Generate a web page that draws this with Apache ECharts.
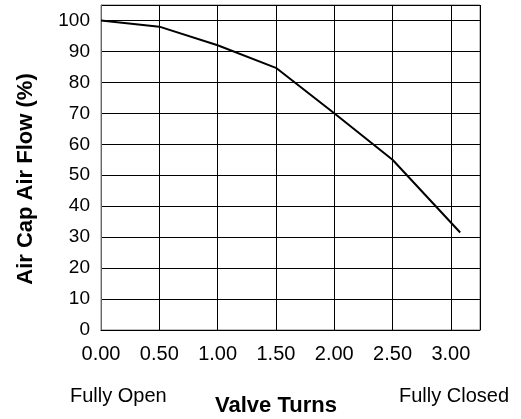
<!DOCTYPE html>
<html>
<head>
<meta charset="utf-8">
<script src="https://cdn.jsdelivr.net/npm/echarts@6/dist/echarts.min.js"></script>
<style>
html,body{margin:0;padding:0;background:#fff;}
#chart{width:521px;height:419px;}
</style>
</head>
<body>
<div id="chart"></div>
<script>
var valveTurns = [0, 0.5, 1.0, 1.5, 2.0, 2.5, 3.08];
var airFlow = [100, 98, 92, 84.7, 70, 55, 31.5];
var xTitle = 'Valve Turns';
var yTitle = 'Air Cap Air Flow (%)';
var leftNote = 'Fully Open';
var rightNote = 'Fully Closed';

var FONT = '"Liberation Sans", Arial, Helvetica, sans-serif';
var chart = echarts.init(document.getElementById('chart'), null, {renderer: 'canvas'});
var points = valveTurns.map(function (x, i) { return [x, airFlow[i]]; });

chart.setOption({
  animation: false,
  backgroundColor: '#fff',
  grid: {
    left: 101, right: 41, top: 5, bottom: 89,
    show: true, borderColor: '#808080', borderWidth: 1, backgroundColor: 'transparent'
  },
  xAxis: {
    type: 'value', min: 0, max: 3.25, interval: 0.5,
    axisLine: {show: true, onZero: false, lineStyle: {color: '#000', width: 1}},
    axisTick: {show: false},
    splitLine: {show: true, lineStyle: {color: '#000', width: 1}},
    axisLabel: {
      color: '#000', fontFamily: FONT, fontSize: 20, margin: 14,
      showMaxLabel: false,
      formatter: function (v) { return v.toFixed(2); }
    }
  },
  yAxis: {
    type: 'value', min: 0, max: 105, interval: 10,
    axisLine: {show: true, lineStyle: {color: '#666', width: 1}},
    axisTick: {show: false},
    splitLine: {show: true, lineStyle: {color: '#000', width: 1}},
    axisLabel: {
      color: '#000', fontFamily: FONT, fontSize: 19, margin: 11,
      showMaxLabel: false
    }
  },
  series: [{
    type: 'line',
    data: points,
    showSymbol: false,
    symbol: 'none',
    lineStyle: {color: '#000', width: 2},
    z: 5
  }],
  graphic: [
    {type: 'text', left: 70, top: 386, style: {text: leftNote, fill: '#000', font: '20px ' + FONT}},
    {type: 'text', right: 12, top: 386, style: {text: rightNote, fill: '#000', font: '20px ' + FONT}},
    {type: 'text', left: 215, top: 395, style: {text: xTitle, fill: '#000', font: 'bold 22px ' + FONT}},
    {type: 'text', x: 26, y: 179, rotation: Math.PI / 2,
     style: {text: yTitle, fill: '#000', font: 'bold 22px ' + FONT, align: 'center', verticalAlign: 'middle'}}
  ]
});
</script>
</body>
</html>
